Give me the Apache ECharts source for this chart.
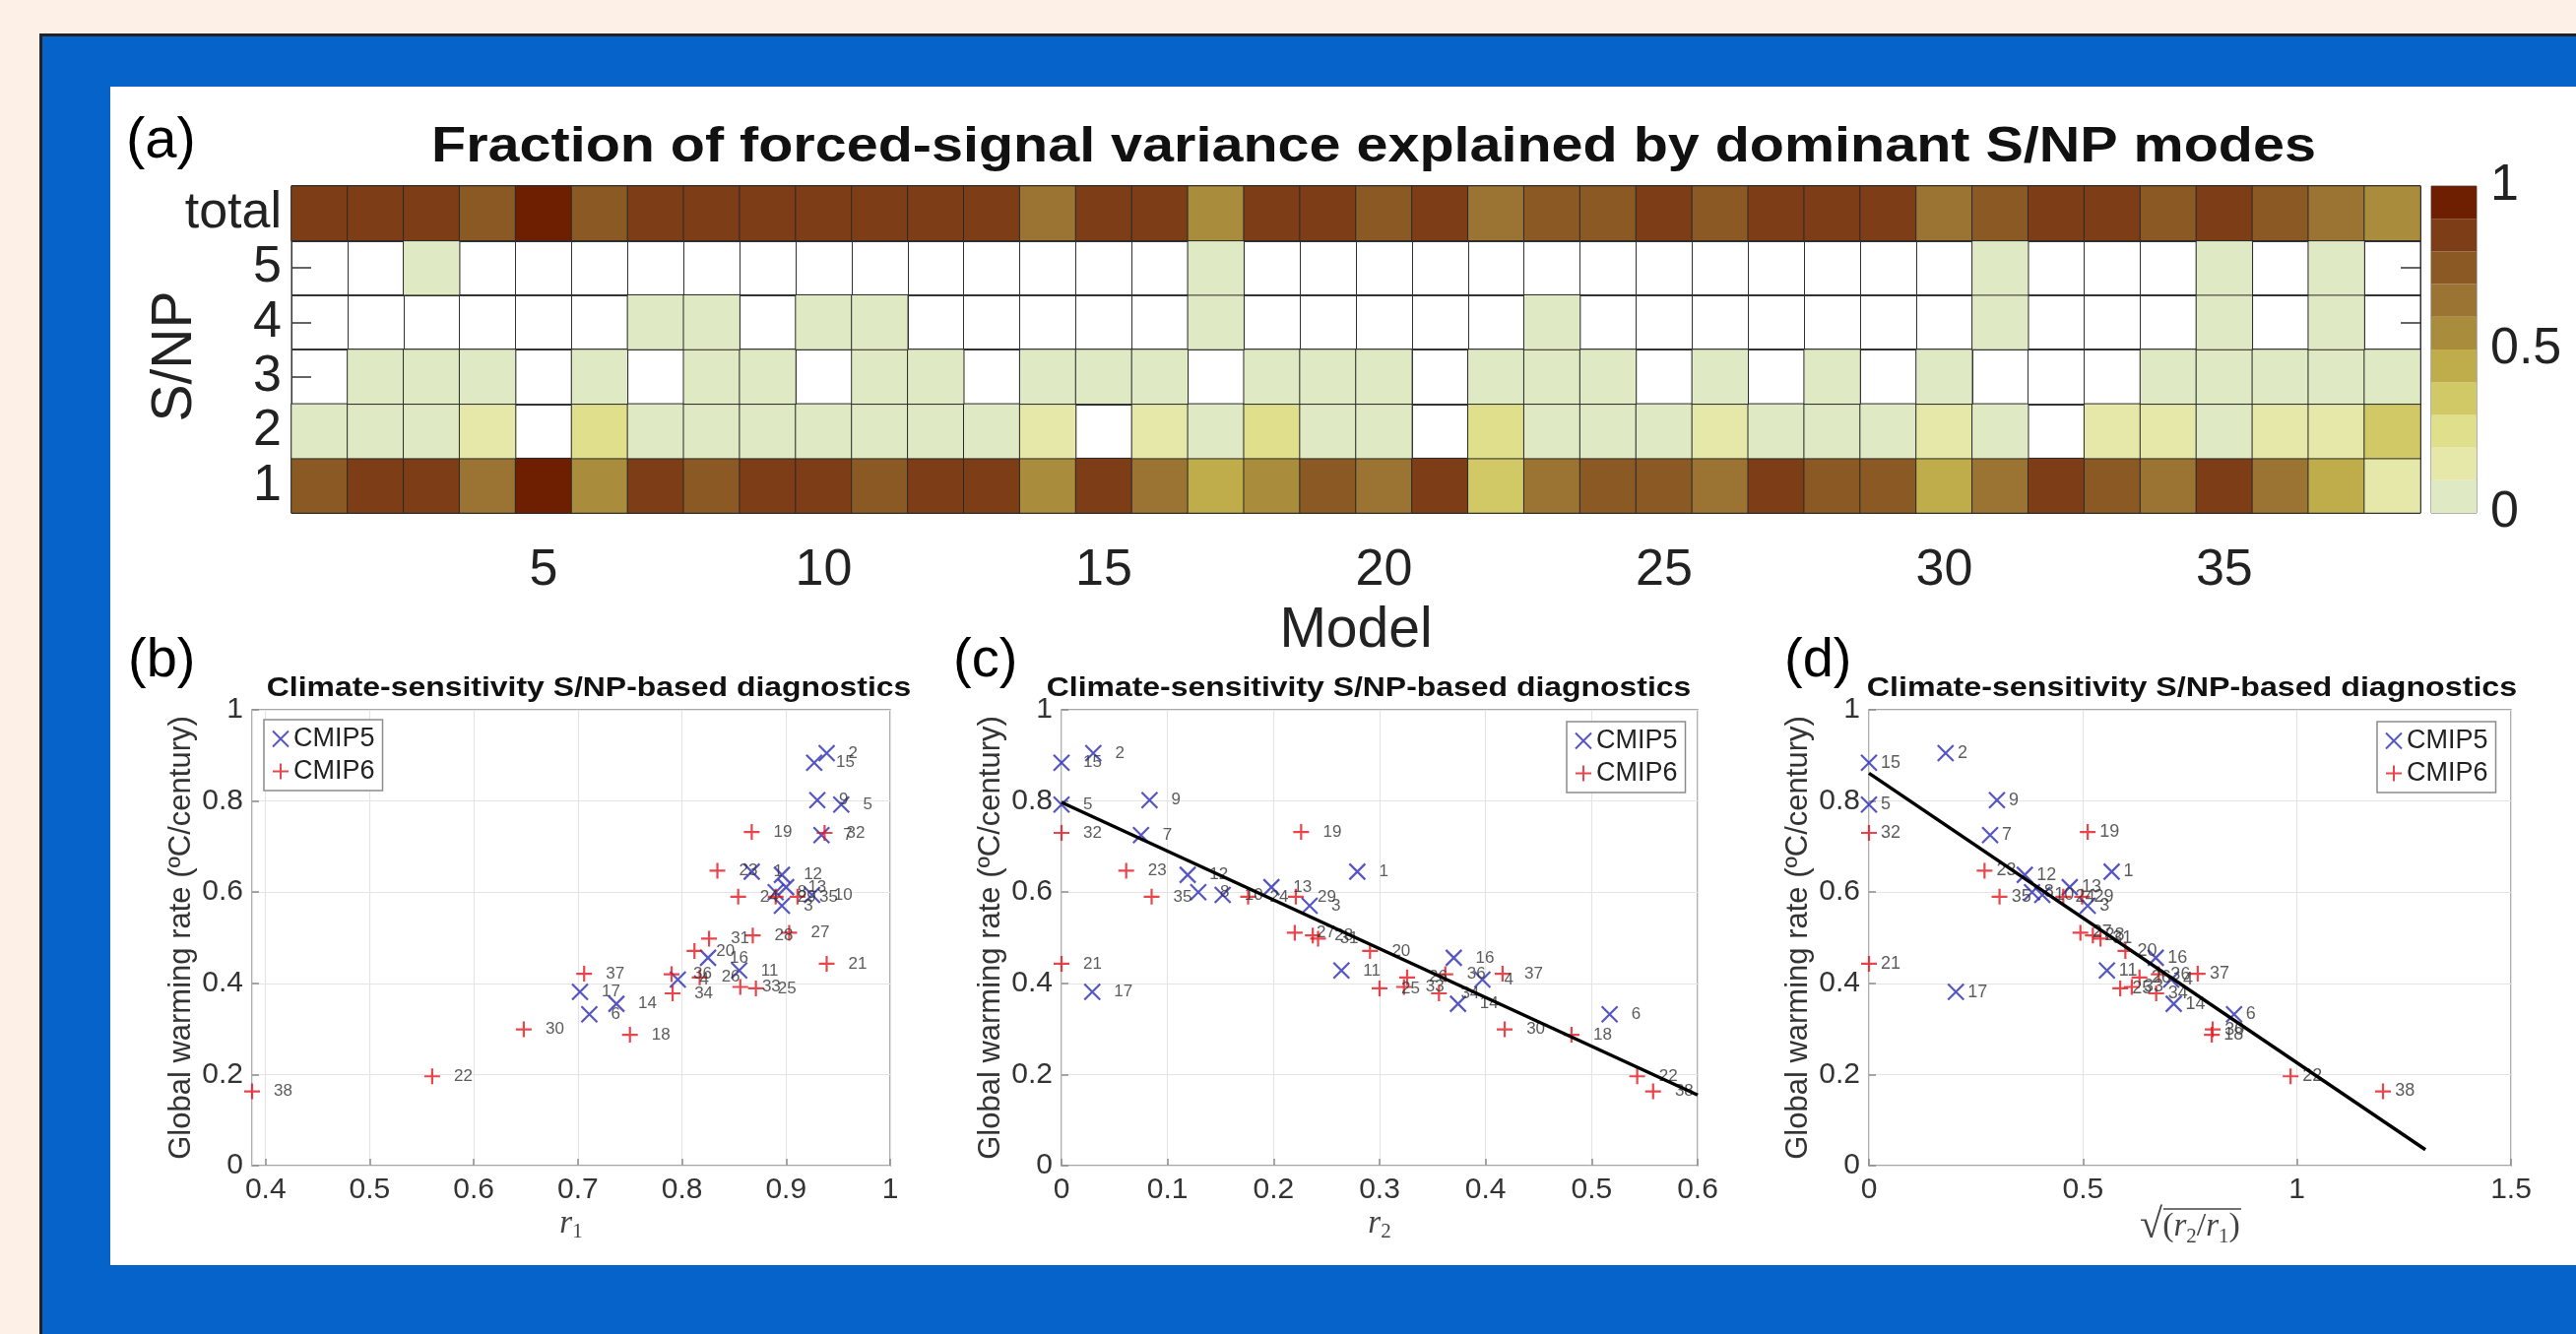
<!DOCTYPE html>
<html><head><meta charset="utf-8">
<script src="https://cdn.jsdelivr.net/npm/echarts@6/dist/echarts.min.js"></script>
<style>
html,body{margin:0;padding:0;width:2616px;height:1355px;background:#FDF0E7;overflow:hidden;}
#blue{position:absolute;left:40px;top:34px;width:2576px;height:1321px;background:#0563C9;border-top:3px solid #222;border-left:3px solid #222;box-sizing:border-box;}
#white{position:absolute;left:112px;top:88px;width:2504px;height:1197px;background:#fff;}
#chart{position:absolute;left:0;top:0;width:2616px;height:1355px;}
</style></head><body>
<div id="blue"></div><div id="white"></div><div id="chart"></div>
<script>
// ---------- DATA ----------
const modelIds = [1,2,3,4,5,6,7,8,9,10,11,12,13,14,15,16,17,18,19,20,21,22,23,24,25,26,27,28,29,30,31,32,33,34,35,36,37,38];
const heatTickModels = [5,10,15,20,25,30,35];
const snpRowNames = ['1','2','3','4','5','total'];
// fraction of forced-signal variance per S/NP mode (null = mode not present)
const snp1 = [0.75,0.85,0.85,0.65,0.95,0.55,0.85,0.75,0.85,0.85,0.75,0.85,0.85,0.55,0.85,0.65,0.45,0.55,0.75,0.65,0.85,0.35,0.65,0.75,0.75,0.65,0.85,0.75,0.75,0.45,0.65,0.85,0.75,0.65,0.85,0.65,0.45,0.15];
const snp2 = [0.05,0.05,0.05,0.15,null,0.25,0.05,0.05,0.05,0.05,0.05,0.05,0.05,0.15,null,0.15,0.05,0.25,0.05,0.05,null,0.25,0.05,0.05,0.05,0.15,0.05,0.05,0.05,0.15,0.05,null,0.15,0.15,0.05,0.15,0.15,0.35];
const snp3 = [null,0.05,0.05,0.05,null,0.05,null,0.05,0.05,null,0.05,0.05,null,0.05,0.05,0.05,null,0.05,0.05,0.05,null,0.05,0.05,0.05,null,0.05,null,0.05,null,0.05,null,null,null,0.05,0.05,0.05,0.05,0.05];
const snp4 = [null,null,null,null,null,null,0.05,0.05,null,0.05,0.05,null,null,null,null,null,0.05,null,null,null,null,null,0.05,null,null,null,null,null,null,null,0.05,null,null,null,0.05,null,0.05,null];
const snp5 = [null,null,0.05,null,null,null,null,null,null,null,null,null,null,null,null,null,0.05,null,null,null,null,null,null,null,null,null,null,null,null,null,0.05,null,null,null,0.05,null,0.05,null];
const snpTotal = [0.85,0.85,0.85,0.75,0.95,0.75,0.85,0.85,0.85,0.85,0.85,0.85,0.85,0.65,0.85,0.85,0.55,0.85,0.85,0.75,0.85,0.65,0.75,0.75,0.85,0.75,0.85,0.85,0.85,0.65,0.75,0.85,0.85,0.75,0.85,0.75,0.65,0.55];
const colorbarEdges = [0,0.1,0.2,0.3,0.4,0.5,0.6,0.7,0.8,0.9,1];
const colorLevels = ['#DFEAC4','#E6E8AA','#E0DF8C','#D0C966','#BFAC4B','#A98D3C','#9B7332','#8B5A24','#7C3D17','#6E1F01'];

const modelGroup = ['CMIP5','CMIP5','CMIP5','CMIP5','CMIP5','CMIP5','CMIP5','CMIP5','CMIP5','CMIP5','CMIP5','CMIP5','CMIP5','CMIP5','CMIP5','CMIP5','CMIP5',
  'CMIP6','CMIP6','CMIP6','CMIP6','CMIP6','CMIP6','CMIP6','CMIP6','CMIP6','CMIP6','CMIP6','CMIP6','CMIP6','CMIP6','CMIP6','CMIP6','CMIP6','CMIP6','CMIP6','CMIP6','CMIP6'];
const warmingRate = [0.645,0.905,0.570,0.408,0.792,0.332,0.725,0.600,0.802,0.594,0.428,0.638,0.611,0.355,0.884,0.456,0.381,
  0.287,0.732,0.471,0.443,0.196,0.647,0.590,0.389,0.413,0.511,0.505,0.590,0.299,0.498,0.730,0.392,0.378,0.590,0.420,0.421,0.163];
const r1Vals = [0.867,0.939,0.896,0.796,0.953,0.711,0.934,0.890,0.930,0.925,0.855,0.896,0.900,0.737,0.927,0.825,0.702,
  0.750,0.867,0.812,0.939,0.560,0.834,0.854,0.871,0.817,0.903,0.868,0.890,0.648,0.826,0.937,0.856,0.791,0.911,0.790,0.706,0.387];
const r2Vals = [0.279,0.030,0.234,0.397,0.000,0.517,0.075,0.129,0.083,0.152,0.264,0.119,0.198,0.374,0.000,0.370,0.029,
  0.481,0.226,0.291,0.000,0.543,0.061,0.176,0.300,0.326,0.220,0.237,0.221,0.418,0.242,0.000,0.323,0.356,0.085,0.362,0.416,0.558];
const sqrtRatioVals = [0.567,0.179,0.511,0.706,0.000,0.853,0.283,0.381,0.299,0.405,0.556,0.364,0.469,0.712,0.000,0.670,0.203,
  0.801,0.511,0.599,0.000,0.985,0.270,0.454,0.587,0.632,0.494,0.523,0.498,0.803,0.541,0.000,0.614,0.671,0.305,0.677,0.768,1.201];
const fitCx = [0, 0.6];
const fitCy = [0.797, 0.155];
const fitDx = [0, 1.3];
const fitDy = [0.861, 0.035];

// ---------- STYLE ----------
const FONT = '"Liberation Sans", Arial, Helvetica, sans-serif';
const SERIF = '"Liberation Serif", "Times New Roman", serif';
const C5 = '#2b2bb5', C6 = '#e3161f';
const symX = 'path://M0,0L10,10M10,0L0,10';
const symPlus = 'path://M5,0L5,10M0,5L10,5';
const yTitle = 'Global warming rate (ºC/century)';

const chart = echarts.init(document.getElementById('chart'), null, {renderer:'canvas'});

// heatmap data
const heatRows = [snp1, snp2, snp3, snp4, snp5, snpTotal];
const heatData = [];
heatRows.forEach((row, yi) => row.forEach((v, xi) => { if (v !== null) heatData.push([xi, yi, v]); }));
const pieces = colorLevels.map((c, i) => ({gte: colorbarEdges[i], lt: colorbarEdges[i+1] + (i === colorLevels.length-1 ? 1e-9 : 0), color: c}));

const series = [];
series.push({
  type:'heatmap', xAxisIndex:0, yAxisIndex:0, data: heatData,
  itemStyle:{borderColor:'#2a2a2a', borderWidth:1}, emphasis:{disabled:true}, silent:true
});

// scatter panels
const panels = [
  {xi:1, yi:2, xs:r1Vals, dist:13, fs:17},
  {xi:2, yi:3, xs:r2Vals, dist:13, fs:17},
  {xi:3, yi:4, xs:sqrtRatioVals, dist:3, fs:18}
];
panels.forEach(p => {
  ['CMIP5','CMIP6'].forEach(g => {
    const data = [];
    modelIds.forEach((id, i) => { if (modelGroup[i] === g) data.push([p.xs[i], warmingRate[i], id]); });
    series.push({
      type:'scatter', name:g, xAxisIndex:p.xi, yAxisIndex:p.yi, data,
      symbol: g === 'CMIP5' ? symX : symPlus, symbolSize: 16,
      itemStyle:{color:'rgba(0,0,0,0)', borderColor: g === 'CMIP5' ? C5 : C6, borderWidth: 2.2},
      label:{show:true, position:'right', distance:p.dist, formatter: q => q.value[2], fontSize:p.fs, color:'#333', fontFamily:FONT},
      emphasis:{disabled:true}, z:3
    });
  });
});
series.push({type:'line', xAxisIndex:2, yAxisIndex:3, data: fitCx.map((x,i)=>[x, fitCy[i]]), showSymbol:false, symbol:'none',
  lineStyle:{color:'#000', width:3.5}, silent:true, z:4});
series.push({type:'line', xAxisIndex:3, yAxisIndex:4, data: fitDx.map((x,i)=>[x, fitDy[i]]), showSymbol:false, symbol:'none',
  lineStyle:{color:'#000', width:3.5}, silent:true, z:4});

// colorbar
colorLevels.forEach((c, i) => series.push({
  type:'bar', xAxisIndex:4, yAxisIndex:5, stack:'cb', barWidth:'100%', name:'cb'+i,
  data:[colorbarEdges[i+1] - colorbarEdges[i]], itemStyle:{color:c}, silent:true
}));

function sAxisX(gi, extra, name, rich){
  return Object.assign({
    type:'value', gridIndex:gi,
    axisLine:{show:false},
    axisTick:{show:true, inside:true, length:7, lineStyle:{color:'#8c8c8c', width:1.5}},
    axisLabel:{fontSize:30, color:'#333', fontFamily:FONT, margin:10},
    splitLine:{show:true, lineStyle:{color:'#e4e4e4', width:1.2}},
    name, nameLocation:'middle', nameGap:40, nameTextStyle:{rich}
  }, extra);
}
function sAxisY(gi){
  return {
    type:'value', gridIndex:gi, min:0, max:1, interval:0.2,
    axisLine:{show:false},
    axisTick:{show:true, inside:true, length:7, lineStyle:{color:'#8c8c8c', width:1.5}},
    axisLabel:{fontSize:30, color:'#333', fontFamily:FONT, margin:9},
    splitLine:{show:true, lineStyle:{color:'#e4e4e4', width:1.2}},
    name:yTitle, nameLocation:'middle', nameRotate:90, nameGap:56,
    nameTextStyle:{fontSize:31, color:'#333', fontFamily:FONT}
  };
}
const rRich = {
  i:{fontFamily:SERIF, fontStyle:'italic', fontSize:33, color:'#444', lineHeight:38, verticalAlign:'middle'},
  s:{fontFamily:SERIF, fontSize:21, color:'#444', lineHeight:21, verticalAlign:'bottom'},
  p:{fontFamily:SERIF, fontSize:34, color:'#444', lineHeight:38, verticalAlign:'middle'},
  q:{fontFamily:SERIF, fontSize:42, color:'#444', lineHeight:42, verticalAlign:'middle'}
};

const legendCommon = {
  orient:'vertical', selectedMode:false, itemWidth:16, itemHeight:16, itemGap:6,
  padding:[6,8,6,8], borderColor:'#8c8c8c', borderWidth:1.5, backgroundColor:'#fff',
  textStyle:{fontSize:27, color:'#222', fontFamily:FONT},
  data:[
    {name:'CMIP5', icon:symX, itemStyle:{color:'rgba(0,0,0,0)', borderColor:C5, borderWidth:2}},
    {name:'CMIP6', icon:symPlus, itemStyle:{color:'rgba(0,0,0,0)', borderColor:C6, borderWidth:2}}
  ]
};

const titleStyle = (x, y, txt, size, sx) => ({type:'text', x, y, scaleX:sx,
  style:{text:txt, font:'bold '+size+'px '+FONT, fill:'#111', textAlign:'center', textVerticalAlign:'middle', align:'center', verticalAlign:'middle'}});
const panelLetter = (x, y, txt, size) => ({type:'text', x, y,
  style:{text:txt, font:size+'px '+FONT, fill:'#000', textAlign:'left', textVerticalAlign:'middle', align:'left', verticalAlign:'middle'}});

const option = {
  animation:false,
  backgroundColor:'transparent',
  textStyle:{fontFamily:FONT},
  grid:[
    {left:296, top:189, width:2162, height:332, show:true, borderColor:'#333', borderWidth:1},
    {left:256, top:721, width:648, height:463, show:true, borderColor:'#8c8c8c', borderWidth:1.5},
    {left:1078, top:721, width:646, height:463, show:true, borderColor:'#8c8c8c', borderWidth:1.5},
    {left:1898, top:721, width:652, height:463, show:true, borderColor:'#8c8c8c', borderWidth:1.5},
    {left:2469, top:189, width:46, height:332, show:true, borderColor:'#666', borderWidth:1}
  ],
  visualMap:{type:'piecewise', show:false, seriesIndex:0, dimension:2, pieces},
  xAxis:[
    {type:'category', gridIndex:0, data:modelIds.map(String),
     axisLine:{show:false}, axisTick:{show:false},
     axisLabel:{fontSize:52, color:'#222', fontFamily:FONT, margin:33,
       interval:(idx, val) => heatTickModels.includes(Number(val))},
     splitLine:{show:true, interval:0, lineStyle:{color:'#333', width:1}},
     name:'Model', nameLocation:'middle', nameGap:92, nameTextStyle:{fontSize:57, color:'#222', fontFamily:FONT}},
    sAxisX(1, {min:'dataMin', max:1, splitNumber:6, axisLabel:{fontSize:30, color:'#333', fontFamily:FONT, margin:10, showMinLabel:false}}, '{i|r}{s|1}', rRich),
    sAxisX(2, {min:0, max:0.6, interval:0.1}, '{i|r}{s|2}', rRich),
    sAxisX(3, {min:0, max:1.5, interval:0.5}, '{q|√}{p|(}{i|r}{s|2}{p|/}{i|r}{s|1}{p|)}', rRich),
    {type:'category', gridIndex:4, data:['cb'], show:false}
  ],
  yAxis:[
    {type:'category', gridIndex:0, data:snpRowNames,
     axisLine:{show:false},
     axisTick:{show:true, inside:true, length:20, alignWithLabel:true, lineStyle:{color:'#333', width:1.5}},
     axisLabel:{fontSize:52, color:'#222', fontFamily:FONT, margin:10, interval:0},
     splitLine:{show:true, interval:0, lineStyle:{color:'#333', width:2}}},
    {type:'category', gridIndex:0, data:snpRowNames, position:'right',
     axisLine:{show:false}, axisLabel:{show:false}, splitLine:{show:false},
     axisTick:{show:true, inside:true, length:20, alignWithLabel:true, interval:0, lineStyle:{color:'#333', width:1.5}}},
    sAxisY(1), sAxisY(2), sAxisY(3),
    {type:'value', gridIndex:4, position:'right', min:0, max:1, interval:0.5,
     axisLine:{show:false}, axisTick:{show:false}, splitLine:{show:false},
     axisLabel:{fontSize:52, color:'#222', fontFamily:FONT, margin:14}}
  ],
  legend:[
    Object.assign({left:268, top:731}, legendCommon),
    Object.assign({left:1591, top:733}, legendCommon),
    Object.assign({left:2414, top:733}, legendCommon)
  ],
  graphic:[
    panelLetter(128, 144, '(a)', 58),
    panelLetter(130, 672, '(b)', 56),
    panelLetter(968, 672, '(c)', 56),
    panelLetter(1812, 672, '(d)', 56),
    {type:'text', x:178, y:362, rotation:Math.PI/2,
     style:{text:'S/NP', font:'57px '+FONT, fill:'#222', textAlign:'center', textVerticalAlign:'middle', align:'center', verticalAlign:'middle'}},
    titleStyle(1395, 150, 'Fraction of forced-signal variance explained by dominant S/NP modes', 50, 1.15),
    titleStyle(598, 699, 'Climate-sensitivity S/NP-based diagnostics', 28, 1.14),
    titleStyle(1390, 699, 'Climate-sensitivity S/NP-based diagnostics', 28, 1.14),
    titleStyle(2226, 699, 'Climate-sensitivity S/NP-based diagnostics', 28, 1.15),
    {type:'line', shape:{x1:2197, y1:1228, x2:2276, y2:1228}, style:{stroke:'#444', lineWidth:1.5}}
  ],
  series
};
chart.setOption(option);
</script>
</body></html>
